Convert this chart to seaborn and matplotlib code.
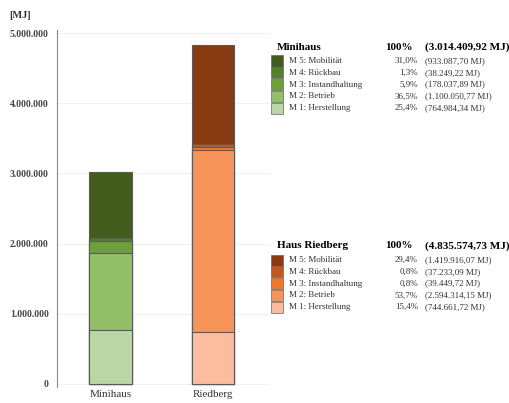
import matplotlib
matplotlib.use("Agg")
import matplotlib.pyplot as plt
from matplotlib.patches import Rectangle
from matplotlib.ticker import FuncFormatter
import seaborn as sns
import pandas as pd

# Data (MJ)
houses = ["Minihaus", "Riedberg"]
modules = ["M 1: Herstellung", "M 2: Betrieb", "M 3: Instandhaltung", "M 4: Rückbau", "M 5: Mobilität"]
minihaus = [764984.34, 1100050.77, 178037.89, 38249.22, 933087.70]
riedberg = [744661.72, 2594314.15, 39449.72, 37233.09, 1419916.07]
totals = [3014409.92, 4835574.73]
legend_titles = ["Minihaus", "Haus Riedberg"]

greens = ["#bcd6a5", "#93bf69", "#6e9f3c", "#557f2c", "#435d1e"]
oranges = ["#fbbd9e", "#f7945a", "#f0782a", "#c4571b", "#8a3a10"]


def de(x, dec=2):
    s = f"{x:,.{dec}f}"
    return s.replace(",", "X").replace(".", ",").replace("X", ".")


plt.rcParams["font.family"] = ["Liberation Serif"]
fig = plt.figure(figsize=(5.09, 4.03), dpi=100)
W, H = 509, 403
ax = fig.add_axes([57 / W, 16 / H, 213 / W, 357 / H])

# stacked bars via cumulative heights, drawn from top layer down
df = pd.DataFrame({"house": houses})
for k in range(4, -1, -1):
    df["cum"] = [sum(minihaus[:k + 1]), sum(riedberg[:k + 1])]
    sns.barplot(data=df, x="house", y="cum", hue="house",
                palette=[greens[k], oranges[k]], width=0.41, saturation=1,
                edgecolor="#5a5a5a", linewidth=0.8, legend=False, ax=ax)

ax.set_xlim(-0.52, 1.55)
ax.set_ylim(-43000, 5043000)
ax.set_yticks([0, 1e6, 2e6, 3e6, 4e6, 5e6])
ax.yaxis.set_major_formatter(FuncFormatter(lambda v, p: de(v, 0)))
ax.set_xlabel("")
ax.set_ylabel("")
ax.grid(axis="y", color="#f0f0f0", linewidth=0.8)
ax.set_axisbelow(True)
for s in ["top", "right", "bottom"]:
    ax.spines[s].set_visible(False)
ax.spines["left"].set_color("#888888")
ax.tick_params(axis="y", length=0, labelsize=7, pad=6, labelcolor="#444444")
ax.tick_params(axis="x", length=0, labelsize=8, pad=2, labelcolor="#333333")
for t in ax.get_yticklabels():
    t.set_fontweight("bold")
fig.text(9 / W, 1 - 16 / H, "[MJ]", fontsize=7.5, fontweight="bold", va="center", color="#333333")

# custom legend blocks
for b, (title, vals, cols, tot, y0) in enumerate(zip(
        legend_titles, [minihaus, riedberg], [greens, oranges], totals, [47, 246])):
    fig.text(277 / W, 1 - y0 / H, title, fontsize=8, fontweight="bold", va="center")
    fig.text(385 / W, 1 - y0 / H, "100%", fontsize=8, fontweight="bold", va="center")
    fig.text(425 / W, 1 - y0 / H, "(" + de(tot) + " MJ)", fontsize=8, fontweight="bold", va="center")
    for i in range(5):
        k = 4 - i
        y = y0 + 14 + i * 11.8
        fig.patches.append(Rectangle((271 / W, 1 - (y + 5.5) / H), 12 / W, 11 / H,
                                     transform=fig.transFigure, facecolor=cols[k],
                                     edgecolor="#666666", linewidth=0.5))
        fig.text(289 / W, 1 - y / H, modules[k], fontsize=6.5, va="center", color="#333333")
        fig.text(418 / W, 1 - y / H, de(vals[k] / tot * 100, 1) + "%", fontsize=6.5,
                 va="center", ha="right", color="#333333")
        fig.text(425 / W, 1 - y / H, "(" + de(vals[k]) + " MJ)", fontsize=6.5,
                 va="center", color="#333333")

fig.savefig("out.png", dpi=100)
